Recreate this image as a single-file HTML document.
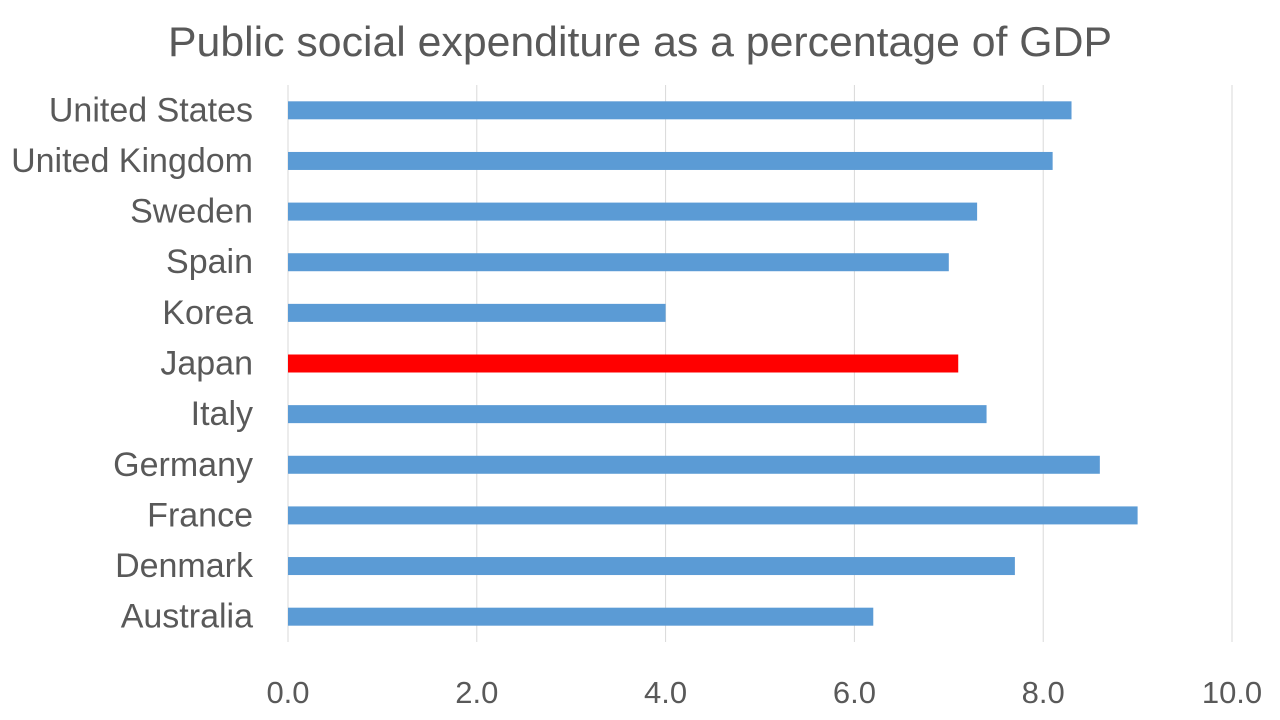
<!DOCTYPE html>
<html><head><meta charset="utf-8"><style>
body{margin:0;background:#fff;}
svg{display:block;font-family:"Liberation Sans",Arial,sans-serif;}
</style></head><body>
<svg id="chart" width="1280" height="720">
<text x="640" y="56" text-anchor="middle" font-size="42" textLength="944" lengthAdjust="spacingAndGlyphs" fill="#595959">Public social expenditure as a percentage of GDP</text>
<g id="grid"></g><g id="bars"></g><g id="ylabels"></g><g id="xlabels"></g>
</svg>
<script>
const categories=["United States","United Kingdom","Sweden","Spain","Korea","Japan","Italy","Germany","France","Denmark","Australia"];
const values=[8.3,8.1,7.3,7.0,4.0,7.1,7.4,8.6,9.0,7.7,6.2];
const highlight=["Japan"];
const ticks=[0,2,4,6,8,10];
const tickLabels=["0.0","2.0","4.0","6.0","8.0","10.0"];
const NS="http://www.w3.org/2000/svg";
const x0=288,x1=1232,yTop=85,yBot=642;
const xs=v=>x0+(v/10)*(x1-x0);
const band=(yBot-yTop)/categories.length;
const yc=i=>yTop+band*(i+0.5);
function mk(t,a,p){const e=document.createElementNS(NS,t);for(const k in a)e.setAttribute(k,a[k]);p.appendChild(e);return e;}
const g=document.getElementById('grid'),b=document.getElementById('bars'),yl=document.getElementById('ylabels'),xl=document.getElementById('xlabels');
ticks.forEach((t,i)=>{
 const l=mk('line',{x1:xs(t),x2:xs(t),y1:yTop,y2:yBot,stroke:'#d9d9d9','stroke-width':1},g);
 
 
 const tx=mk('text',{x:xs(t),y:703,'text-anchor':'middle','font-size':31,fill:'#595959'},xl);
 tx.textContent=tickLabels[i];
 
 
});
categories.forEach((c,i)=>{
 const r=mk('rect',{x:x0,y:yc(i)-9,width:xs(values[i])-x0,height:18,fill:highlight.includes(c)?'#ff0000':'#5b9bd5'},b);
 
 
 const t=mk('text',{x:253,y:yc(i)+11,'text-anchor':'end','font-size':34,fill:'#595959'},yl);
 t.textContent=c;
 
 
});
</script>
</body></html>
